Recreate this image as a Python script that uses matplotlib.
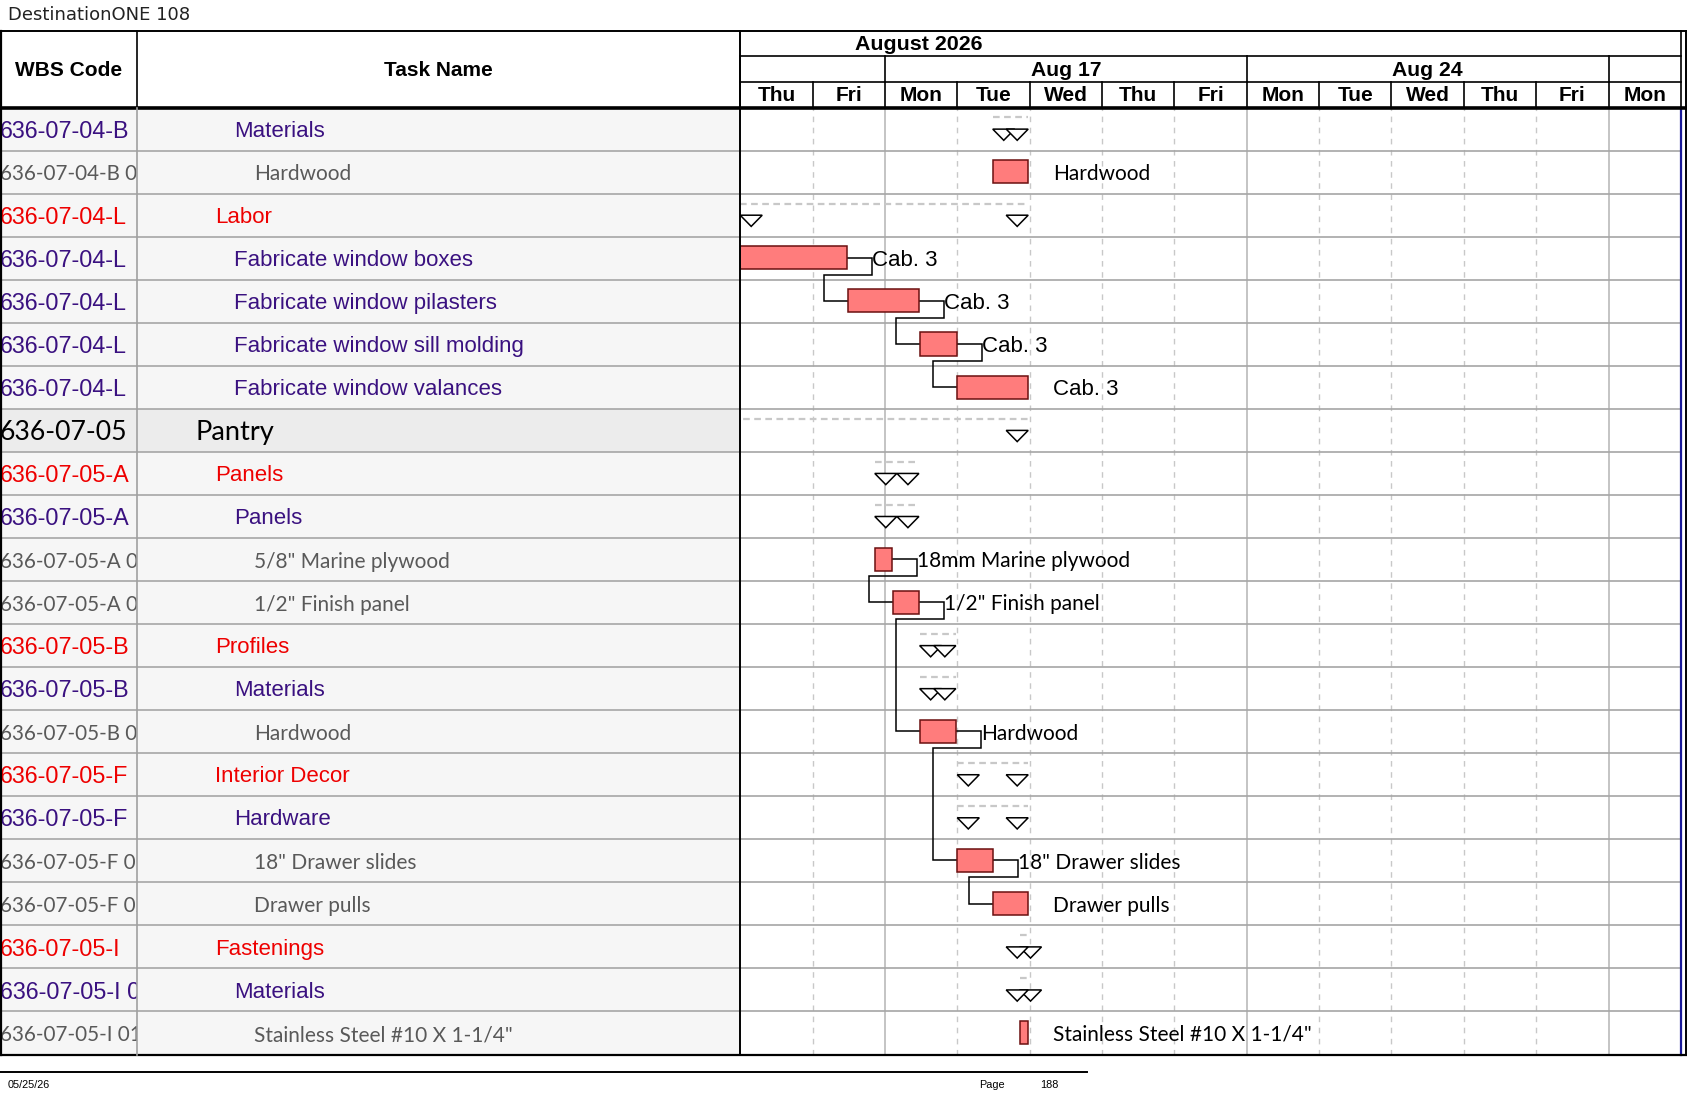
import matplotlib
matplotlib.use("Agg")
import matplotlib.pyplot as plt
from matplotlib.patches import Rectangle, Polygon

# ---------------- data ----------------
title = "DestinationONE 108"
footer_date = "05/25/26"
footer_page = "188"
month_label = "August 2026"
month_label_pos = 2.47          # in working-day columns
day_labels = ["Thu", "Fri", "Mon", "Tue", "Wed", "Thu", "Fri",
              "Mon", "Tue", "Wed", "Thu", "Fri", "Mon"]
week_starts = [0, 2, 7, 12]      # column index where each week begins
week_labels = ["", "Aug 17", "Aug 24", ""]

wbs_codes = ["636-07-04-B", "636-07-04-B 01", "636-07-04-L", "636-07-04-L",
             "636-07-04-L", "636-07-04-L", "636-07-04-L", "636-07-05",
             "636-07-05-A", "636-07-05-A", "636-07-05-A 01", "636-07-05-A 02",
             "636-07-05-B", "636-07-05-B", "636-07-05-B 01", "636-07-05-F",
             "636-07-05-F", "636-07-05-F 01", "636-07-05-F 02", "636-07-05-I",
             "636-07-05-I 01", "636-07-05-I 01.01"]
task_names = ["Materials", "Hardwood", "Labor", "Fabricate window boxes",
              "Fabricate window pilasters", "Fabricate window sill molding",
              "Fabricate window valances", "Pantry", "Panels", "Panels",
              '5/8" Marine plywood', '1/2" Finish panel', "Profiles",
              "Materials", "Hardwood", "Interior Decor", "Hardware",
              '18" Drawer slides', "Drawer pulls", "Fastenings", "Materials",
              'Stainless Steel #10 X 1-1/4"']
levels = [2, 3, 1, 2, 2, 2, 2, 0, 1, 2, 3, 3, 1, 2, 3, 1, 2, 3, 3, 1, 2, 3]
is_summary = [True, False, True, False, False, False, False, True, True, True,
              False, False, True, True, False, True, True, False, False, True,
              True, False]
# start / finish in working days from Thu Aug 13, 2026
starts = [3.49, 3.49, 0.00, 0.00, 1.49, 2.48, 3.00, -1.50, 1.86, 1.86, 1.86,
          2.11, 2.48, 2.48, 2.48, 3.00, 3.00, 3.00, 3.49, 3.86, 3.86, 3.86]
finishes = [3.98, 3.98, 3.98, 1.47, 2.47, 2.99, 3.98, 3.98, 2.47, 2.47, 2.10,
            2.47, 2.98, 2.98, 2.98, 3.98, 3.98, 3.49, 3.98, 3.98, 3.98, 3.98]
bar_labels = ["", "Hardwood", "", "Cab. 3", "Cab. 3", "Cab. 3", "Cab. 3", "",
              "", "", "18mm Marine plywood", '1/2" Finish panel', "", "",
              "Hardwood", "", "", '18" Drawer slides', "Drawer pulls", "", "",
              'Stainless Steel #10 X 1-1/4"']
links = [(3, 4), (4, 5), (5, 6), (10, 11), (11, 14), (14, 17), (17, 18)]

# ---------------- layout / style ----------------
W, H = 1687, 1097
TOP, HDR_BOT, BOT = 30.7, 107.6, 1054.5
COL1, COL2, CH_R, FRAME_R = 136.7, 740.2, 1680.9, 1685.7
n_rows = len(task_names)
n_days = len(day_labels)
px_day = (CH_R - COL2) / n_days
px_row = (BOT - HDR_BOT) / n_rows

ARIAL = "Liberation Sans"
CAL = "Lato"
PURPLE = "#3a1180"
RED = "#ee0000"
GRAY_TXT = "#595959"
# family, task size, wbs size, colour, indent (px)
level_style = {
    0: dict(family=CAL, size=19.6, wsize=19.2, color="black", x=195.0),
    1: dict(family=ARIAL, size=16.0, wsize=16.8, color=RED, x=215.0),
    2: dict(family=ARIAL, size=16.0, wsize=16.8, color=PURPLE, x=234.5),
    3: dict(family=CAL, size=15.0, wsize=14.9, color=GRAY_TXT, x=254.0),
}
TABLE_BG = "#f6f6f6"
PANTRY_BG = "#ececec"
ROW_LINE = "#a6a6a6"
BAR_FILL = "#ff7c7c"
BAR_EDGE = "#6b1010"
TXT_DY = 0.05   # small downward shift of text within rows

fig = plt.figure(figsize=(W / 100, H / 100), dpi=100)


def px_axes(x0, y0, x1, y1, **kw):
    return fig.add_axes([x0 / W, 1 - y1 / H, (x1 - x0) / W, (y1 - y0) / H], **kw)


# background / title / footer
ax_bg = fig.add_axes([0, 0, 1, 1])
ax_bg.set_xlim(0, W)
ax_bg.set_ylim(H, 0)
ax_bg.axis("off")
ax_bg.text(8, 15, title, fontsize=13, family="DejaVu Sans", color="#222222",
           va="center", ha="left")
ax_bg.plot([0, 1087], [1071.5, 1071.5], color="black", lw=1.4)
ax_bg.text(8, 1084.5, footer_date, fontsize=7.8, family=ARIAL, va="center")
ax_bg.text(979, 1084.5, "Page", fontsize=7.8, family=ARIAL, va="center")
ax_bg.text(1040, 1084.5, footer_page, fontsize=7.8, family=ARIAL, va="center")

# ---------------- table ----------------
ax_wbs = px_axes(0, HDR_BOT, COL1, BOT)
ax_task = px_axes(COL1, HDR_BOT, COL2, BOT)
for axt, x0, x1 in ((ax_wbs, 0, COL1), (ax_task, COL1, COL2)):
    axt.set_xlim(x0, x1)
    axt.set_ylim(n_rows, 0)
    axt.set_facecolor(TABLE_BG)
    axt.set_xticks([])
    axt.set_yticks([])
    for s in axt.spines.values():
        s.set_visible(False)
    for i, lv in enumerate(levels):
        if lv == 0:
            axt.add_patch(Rectangle((x0, i), x1 - x0, 1, color=PANTRY_BG, lw=0))
    for i in range(1, n_rows):
        axt.axhline(i, color=ROW_LINE, lw=1.2)

for i in range(n_rows):
    st = level_style[levels[i]]
    ax_wbs.text(-0.5, i + 0.5 + TXT_DY, wbs_codes[i], family=st["family"],
                fontsize=st["wsize"], color=st["color"], va="center", ha="left",
                clip_on=True)
    ax_task.text(st["x"], i + 0.5 + TXT_DY, task_names[i], family=st["family"],
                 fontsize=st["size"], color=st["color"], va="center", ha="left",
                 clip_on=True)

# ---------------- chart ----------------
ax = px_axes(COL2, HDR_BOT, CH_R, BOT)
ax.set_xlim(0, n_days)
ax.set_ylim(n_rows, 0)
ax.set_xticks([])
ax.set_yticks([])
for s in ax.spines.values():
    s.set_visible(False)

for d in range(1, n_days):
    if d in week_starts:
        ax.axvline(d, color="#b4b4b4", lw=1.1, zorder=1)
    else:
        ax.axvline(d, color="#c8c8c8", lw=1.0, ls=(0, (4, 4)), zorder=1)
for i in range(1, n_rows):
    ax.axhline(i, color=ROW_LINE, lw=1.2, zorder=1)

tri_w = 22 / px_day
tri_top, tri_bot = 0.50, 0.76
bar_top, bar_bot = 0.225, 0.76
bar_mid = (bar_top + bar_bot) / 2
lead = 25 / px_day
back = 24 / px_day
drop = 5 / px_row

for i in range(n_rows):
    s, f = starts[i], finishes[i]
    if is_summary[i]:
        ax.plot([s, f], [i + 0.23, i + 0.23], color="#c8c8c8", lw=1.6,
                ls=(0, (3, 2)), zorder=2)
        for x0 in (s, f - tri_w):
            ax.add_patch(Polygon([(x0, i + tri_top), (x0 + tri_w, i + tri_top),
                                  (x0 + tri_w / 2, i + tri_bot)], closed=True,
                                 facecolor="white", edgecolor="black", lw=1.1,
                                 zorder=4))
    else:
        ax.add_patch(Rectangle((s, i + bar_top), f - s, bar_bot - bar_top,
                               facecolor=BAR_FILL, edgecolor=BAR_EDGE, lw=1.1,
                               zorder=4))
    if bar_labels[i]:
        fam = ARIAL if levels[i] == 2 else CAL
        ax.annotate(bar_labels[i], xy=(f, i + bar_mid + TXT_DY), xytext=(25, 0),
                    textcoords="offset pixels", va="center", ha="left",
                    family=fam, fontsize=16.0 if fam == ARIAL else 15.0,
                    color="black", zorder=5)

for p, q in links:
    x1 = finishes[p] + lead
    x2 = starts[q] - back
    yb = p + 1 - drop
    ax.plot([finishes[p], x1, x1, x2, x2, starts[q]],
            [p + bar_mid, p + bar_mid, yb, yb, q + bar_mid, q + bar_mid],
            color="black", lw=1.1, zorder=3, solid_joinstyle="miter")

ax.axvline(n_days, color="#1a1a9a", lw=1.6, clip_on=False, zorder=6)

# ---------------- timescale header ----------------
axh = px_axes(COL2, TOP, CH_R, HDR_BOT)
axh.set_xlim(0, n_days)
axh.set_ylim(3, 0)
axh.axis("off")
axh.text(month_label_pos, 0.5 + 0.04, month_label, ha="center", va="center",
         family=ARIAL, weight="bold", fontsize=15.4)
wk_bounds = week_starts + [n_days]
for k, lab in enumerate(week_labels):
    axh.text((wk_bounds[k] + wk_bounds[k + 1]) / 2, 1.5 + 0.04, lab,
             ha="center", va="center", family=ARIAL, weight="bold",
             fontsize=15.2)
    axh.plot([wk_bounds[k], wk_bounds[k]], [1, 2], color="black", lw=1.2,
             clip_on=False)
for d, lab in enumerate(day_labels):
    axh.text(d + 0.5, 2.5 + 0.04, lab, ha="center", va="center", family=ARIAL,
             weight="bold", fontsize=15)
    axh.plot([d, d], [2, 3], color="black", lw=1.2, clip_on=False)
axh.plot([0, n_days], [1, 1], color="black", lw=1.2, clip_on=False)
axh.plot([0, n_days], [2, 2], color="black", lw=1.2, clip_on=False)
axh.plot([n_days, n_days], [0, 3], color="black", lw=1.2, clip_on=False)

# ---------------- frame / table header ----------------
ax_fg = fig.add_axes([0, 0, 1, 1], facecolor="none")
ax_fg.set_xlim(0, W)
ax_fg.set_ylim(H, 0)
ax_fg.axis("off")
ax_fg.plot([0, FRAME_R], [TOP, TOP], color="black", lw=1.4)
ax_fg.plot([0, FRAME_R], [HDR_BOT, HDR_BOT], color="black", lw=2.6)
ax_fg.plot([0, FRAME_R], [BOT, BOT], color="black", lw=1.6)
ax_fg.plot([0.8, 0.8], [TOP, BOT], color="black", lw=1.6)
ax_fg.plot([FRAME_R, FRAME_R], [TOP, BOT], color="black", lw=1.4)
ax_fg.plot([COL1, COL1], [TOP, HDR_BOT], color="black", lw=1.2)
ax_fg.plot([COL1, COL1], [HDR_BOT, BOT], color="#a0a0a0", lw=1.2)
ax_fg.plot([COL2, COL2], [TOP, BOT], color="black", lw=1.4)
ax_fg.text(COL1 / 2, 70, "WBS Code", ha="center", va="center", family=ARIAL,
           weight="bold", fontsize=15)
ax_fg.text((COL1 + COL2) / 2, 70, "Task Name", ha="center", va="center",
           family=ARIAL, weight="bold", fontsize=15)

fig.savefig("out.png", dpi=100)
